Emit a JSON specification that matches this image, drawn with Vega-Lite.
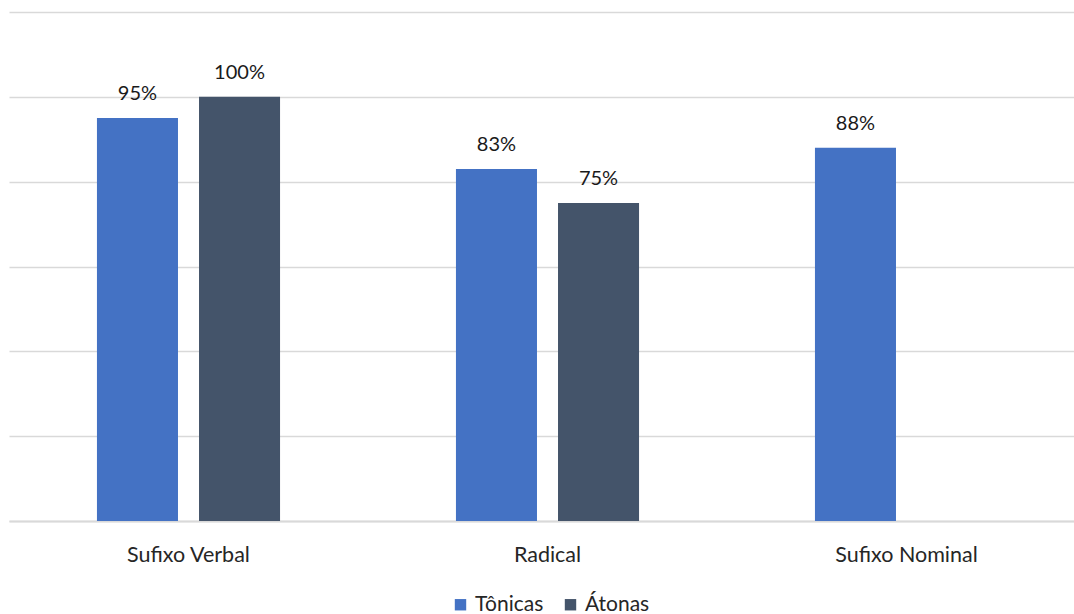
{
  "$schema": "https://vega.github.io/schema/vega-lite/v6.json",
  "width": 1064,
  "height": 509,
  "autosize": {"type": "none"},
  "padding": {"left": 10, "top": 12, "right": 0, "bottom": 93},
  "background": "white",
  "config": {
    "view": {"stroke": null},
    "font": "Lato"
  },
  "data": {
    "values": [
      {"posicao": "Sufixo Verbal", "tipo": "Tônicas", "valor": 0.95},
      {"posicao": "Sufixo Verbal", "tipo": "Átonas", "valor": 1.0},
      {"posicao": "Radical", "tipo": "Tônicas", "valor": 0.83},
      {"posicao": "Radical", "tipo": "Átonas", "valor": 0.75},
      {"posicao": "Sufixo Nominal", "tipo": "Tônicas", "valor": 0.88}
    ]
  },
  "encoding": {
    "x": {
      "field": "posicao",
      "type": "nominal",
      "sort": ["Sufixo Verbal", "Radical", "Sufixo Nominal"],
      "scale": {"range": [-1, 1076], "paddingInner": 0.49, "paddingOuter": 0.245},
      "axis": {
        "title": null,
        "labelAngle": 0,
        "ticks": false,
        "domainColor": "#d9d9d9",
        "domainWidth": 2,
        "labelFontSize": 21.5,
        "labelColor": "#262626",
        "labelBaseline": "alphabetic",
        "labelPadding": 40
      }
    },
    "xOffset": {
      "field": "tipo",
      "type": "nominal",
      "sort": ["Tônicas", "Átonas"],
      "scale": {"paddingInner": 0.206, "paddingOuter": 0}
    },
    "y": {
      "field": "valor",
      "type": "quantitative",
      "scale": {"domain": [0, 1.2], "nice": false},
      "axis": {
        "title": null,
        "values": [0, 0.2, 0.4, 0.6, 0.8, 1.0, 1.2],
        "labels": false,
        "ticks": false,
        "domain": false,
        "gridColor": "#d9d9d9",
        "gridWidth": 1.5
      }
    }
  },
  "layer": [
    {
      "mark": {"type": "bar"},
      "encoding": {
        "color": {
          "field": "tipo",
          "type": "nominal",
          "sort": ["Tônicas", "Átonas"],
          "scale": {"domain": ["Tônicas", "Átonas"], "range": ["#4472c4", "#44546a"]},
          "legend": {
            "title": null,
            "orient": "none",
            "direction": "horizontal",
            "legendX": 440,
            "legendY": 582,
            "symbolType": "square",
            "symbolSize": 130,
            "symbolStrokeWidth": 0,
            "symbolOpacity": 1,
            "labelFontSize": 21,
            "labelColor": "#262626",
            "labelOffset": 4,
            "columnPadding": 16
          }
        }
      }
    },
    {
      "mark": {"type": "text", "dy": -18, "baseline": "alphabetic", "fontSize": 20, "color": "#1a1a1a"},
      "encoding": {
        "text": {"field": "valor", "type": "quantitative", "format": ".0%"}
      }
    }
  ]
}
